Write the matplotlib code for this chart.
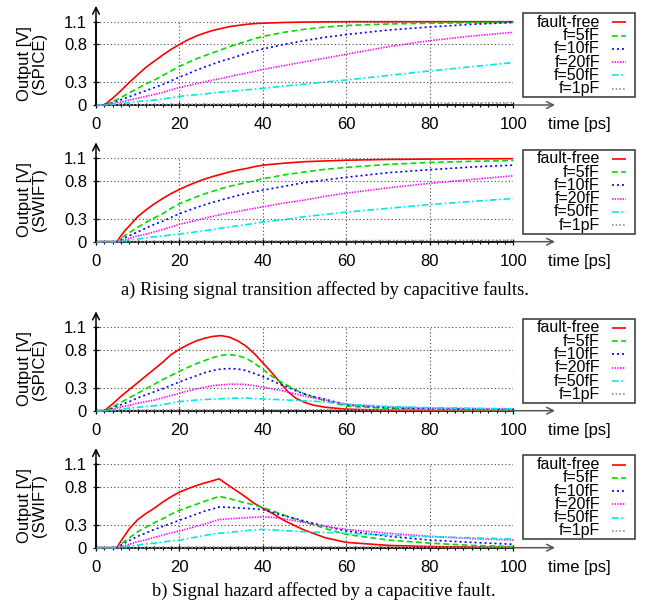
import matplotlib
matplotlib.use("Agg")
import matplotlib.pyplot as plt
from matplotlib.lines import Line2D
from matplotlib.patches import Rectangle

W, H = 651, 608

# ---------------- data ----------------
labels = ["fault-free", "f=5fF", "f=10fF", "f=20fF", "f=50fF", "f=1pF"]
x_ticks = [0, 20, 40, 60, 80, 100]
y_ticks = [0, 0.3, 0.8, 1.1]
y_ticklabels = ["0", "0.3", "0.8", "1.1"]

# a) rising, SPICE
t1 = [0, 2, 4, 6, 8, 10, 12, 14, 16, 18, 20, 22, 24, 26, 28, 30, 32, 34, 36, 38, 40, 45, 50, 55, 60, 70, 80, 90, 100]
r1_ff = [0, 0, 0.09, 0.19, 0.30, 0.40, 0.50, 0.58, 0.66, 0.735, 0.80, 0.86, 0.91, 0.95, 0.985, 1.01, 1.035, 1.05, 1.065, 1.075, 1.08, 1.09, 1.095, 1.098, 1.1, 1.1, 1.1, 1.1, 1.1]
r1_5 = [0, 0, 0.045, 0.10, 0.16, 0.22, 0.28, 0.33, 0.39, 0.45, 0.51, 0.56, 0.61, 0.65, 0.69, 0.73, 0.77, 0.805, 0.84, 0.875, 0.905, 0.96, 1.0, 1.03, 1.05, 1.07, 1.08, 1.085, 1.09]
r1_10 = [0, 0, 0.03, 0.07, 0.11, 0.15, 0.19, 0.23, 0.27, 0.32, 0.37, 0.41, 0.46, 0.50, 0.54, 0.58, 0.61, 0.645, 0.68, 0.71, 0.74, 0.80, 0.85, 0.895, 0.93, 0.99, 1.03, 1.065, 1.09]
r1_20 = [0, 0, 0.015, 0.04, 0.065, 0.09, 0.115, 0.14, 0.165, 0.20, 0.23, 0.255, 0.28, 0.305, 0.33, 0.35, 0.375, 0.40, 0.42, 0.445, 0.47, 0.52, 0.57, 0.62, 0.67, 0.77, 0.85, 0.91, 0.96]
r1_50 = [0, 0, 0.01, 0.02, 0.03, 0.045, 0.055, 0.065, 0.08, 0.095, 0.115, 0.125, 0.135, 0.145, 0.16, 0.17, 0.18, 0.19, 0.20, 0.21, 0.22, 0.25, 0.275, 0.305, 0.33, 0.39, 0.45, 0.505, 0.56]
r1_1p = [0, 0, 0.001, 0.002, 0.003, 0.004, 0.005, 0.005, 0.006, 0.007, 0.008, 0.008, 0.009, 0.009, 0.01, 0.011, 0.011, 0.012, 0.012, 0.013, 0.014, 0.015, 0.017, 0.019, 0.02, 0.023, 0.025, 0.027, 0.03]

# a) rising, SWIFT
t2 = [0, 5, 6, 7, 8, 10, 12, 14, 16, 18, 20, 22, 24, 26, 28, 30, 32, 34, 36, 38, 40, 45, 50, 55, 60, 70, 80, 90, 100]
r2_ff = [0, 0, 0.08, 0.15, 0.21, 0.33, 0.42, 0.50, 0.57, 0.635, 0.69, 0.74, 0.785, 0.825, 0.86, 0.89, 0.92, 0.945, 0.965, 0.99, 1.01, 1.035, 1.055, 1.065, 1.075, 1.085, 1.09, 1.093, 1.095]
r2_5 = [0, 0, 0.045, 0.085, 0.12, 0.19, 0.255, 0.315, 0.37, 0.44, 0.50, 0.545, 0.59, 0.63, 0.665, 0.70, 0.73, 0.755, 0.78, 0.805, 0.83, 0.88, 0.92, 0.955, 0.98, 1.02, 1.045, 1.06, 1.07]
r2_10 = [0, 0, 0.03, 0.055, 0.08, 0.13, 0.18, 0.23, 0.27, 0.32, 0.37, 0.41, 0.45, 0.485, 0.52, 0.55, 0.58, 0.61, 0.635, 0.66, 0.68, 0.73, 0.78, 0.815, 0.85, 0.91, 0.95, 0.985, 1.01]
r2_20 = [0, 0, 0.015, 0.03, 0.045, 0.075, 0.10, 0.13, 0.16, 0.195, 0.23, 0.255, 0.28, 0.31, 0.335, 0.36, 0.38, 0.40, 0.42, 0.44, 0.46, 0.51, 0.55, 0.60, 0.64, 0.71, 0.77, 0.82, 0.87]
r2_50 = [0, 0, 0.005, 0.012, 0.02, 0.035, 0.05, 0.065, 0.075, 0.09, 0.10, 0.115, 0.13, 0.145, 0.16, 0.18, 0.195, 0.21, 0.225, 0.24, 0.26, 0.29, 0.33, 0.36, 0.39, 0.44, 0.49, 0.53, 0.57]
r2_1p = [0, 0, 0.0, 0.0, 0.001, 0.002, 0.002, 0.003, 0.003, 0.004, 0.004, 0.005, 0.005, 0.006, 0.006, 0.007, 0.007, 0.008, 0.008, 0.009, 0.009, 0.01, 0.011, 0.012, 0.013, 0.015, 0.017, 0.019, 0.02]

# b) hazard, SPICE
t3 = [0, 2, 4, 6, 8, 10, 12, 14, 16, 18, 20, 22, 24, 26, 28, 30, 32, 34, 36, 38, 40, 42, 44, 46, 48, 50, 52, 55, 60, 70, 80, 90, 100]
h3_ff = [0, 0, 0.09, 0.19, 0.28, 0.37, 0.46, 0.55, 0.64, 0.74, 0.81, 0.87, 0.92, 0.955, 0.98, 0.99, 0.97, 0.92, 0.85, 0.75, 0.63, 0.51, 0.38, 0.25, 0.16, 0.11, 0.075, 0.045, 0.02, 0.006, 0.002, 0.001, 0]
h3_5 = [0, 0, 0.05, 0.11, 0.17, 0.23, 0.29, 0.35, 0.41, 0.465, 0.52, 0.57, 0.62, 0.66, 0.70, 0.73, 0.74, 0.725, 0.69, 0.625, 0.545, 0.46, 0.39, 0.33, 0.27, 0.22, 0.18, 0.13, 0.06, 0.03, 0.015, 0.01, 0.008]
h3_10 = [0, 0, 0.035, 0.08, 0.12, 0.17, 0.21, 0.25, 0.29, 0.335, 0.38, 0.42, 0.46, 0.50, 0.53, 0.55, 0.555, 0.55, 0.53, 0.49, 0.45, 0.40, 0.35, 0.31, 0.26, 0.22, 0.19, 0.15, 0.075, 0.04, 0.025, 0.02, 0.015]
h3_20 = [0, 0, 0.02, 0.05, 0.07, 0.10, 0.12, 0.14, 0.17, 0.20, 0.23, 0.26, 0.285, 0.31, 0.33, 0.34, 0.35, 0.35, 0.345, 0.33, 0.31, 0.29, 0.27, 0.245, 0.22, 0.19, 0.17, 0.14, 0.085, 0.05, 0.035, 0.028, 0.022]
h3_50 = [0, 0, 0.01, 0.02, 0.035, 0.045, 0.055, 0.065, 0.08, 0.10, 0.12, 0.13, 0.14, 0.147, 0.153, 0.158, 0.162, 0.165, 0.165, 0.16, 0.155, 0.15, 0.145, 0.14, 0.135, 0.13, 0.125, 0.115, 0.085, 0.055, 0.04, 0.032, 0.025]
h3_1p = [0, 0, 0.001, 0.002, 0.003, 0.004, 0.005, 0.005, 0.006, 0.007, 0.008, 0.008, 0.009, 0.009, 0.01, 0.01, 0.01, 0.011, 0.011, 0.011, 0.011, 0.011, 0.011, 0.011, 0.011, 0.011, 0.011, 0.011, 0.01, 0.01, 0.009, 0.009, 0.008]

# b) hazard, SWIFT
t4 = [0, 5, 6, 7, 8, 10, 12, 14, 16, 18, 20, 22, 24, 26, 28, 29.5, 32, 35, 38, 40, 42, 45, 48, 50, 55, 60, 70, 80, 90, 100]
h4_ff = [0, 0, 0.09, 0.17, 0.25, 0.37, 0.45, 0.52, 0.60, 0.67, 0.73, 0.775, 0.815, 0.85, 0.88, 0.905, 0.81, 0.70, 0.58, 0.52, 0.46, 0.36, 0.28, 0.23, 0.13, 0.07, 0.03, 0.015, 0.008, 0.005]
h4_5 = [0, 0, 0.05, 0.09, 0.13, 0.21, 0.27, 0.33, 0.38, 0.44, 0.49, 0.53, 0.57, 0.61, 0.645, 0.675, 0.645, 0.60, 0.56, 0.53, 0.49, 0.43, 0.37, 0.34, 0.25, 0.175, 0.10, 0.06, 0.03, 0.015]
h4_10 = [0, 0, 0.035, 0.065, 0.095, 0.15, 0.195, 0.24, 0.28, 0.32, 0.36, 0.40, 0.44, 0.48, 0.51, 0.535, 0.53, 0.52, 0.51, 0.50, 0.47, 0.42, 0.38, 0.35, 0.28, 0.22, 0.15, 0.10, 0.07, 0.045]
h4_20 = [0, 0, 0.015, 0.03, 0.045, 0.08, 0.105, 0.135, 0.165, 0.195, 0.22, 0.25, 0.28, 0.31, 0.345, 0.37, 0.38, 0.39, 0.40, 0.405, 0.40, 0.38, 0.35, 0.33, 0.28, 0.24, 0.19, 0.15, 0.12, 0.10]
h4_50 = [0, 0, 0.005, 0.012, 0.02, 0.035, 0.05, 0.06, 0.075, 0.09, 0.10, 0.12, 0.14, 0.16, 0.18, 0.19, 0.20, 0.22, 0.235, 0.24, 0.235, 0.225, 0.215, 0.21, 0.20, 0.19, 0.165, 0.145, 0.13, 0.115]
h4_1p = [0, 0, 0.0, 0.0, 0.001, 0.002, 0.002, 0.003, 0.003, 0.004, 0.004, 0.005, 0.005, 0.006, 0.006, 0.007, 0.007, 0.008, 0.008, 0.008, 0.008, 0.008, 0.008, 0.008, 0.008, 0.008, 0.008, 0.007, 0.007, 0.007]

panels = [
    (t1, [r1_ff, r1_5, r1_10, r1_20, r1_50, r1_1p], "(SPICE)"),
    (t2, [r2_ff, r2_5, r2_10, r2_20, r2_50, r2_1p], "(SWIFT)"),
    (t3, [h3_ff, h3_5, h3_10, h3_20, h3_50, h3_1p], "(SPICE)"),
    (t4, [h4_ff, h4_5, h4_10, h4_20, h4_50, h4_1p], "(SWIFT)"),
]

captions = ["a) Rising signal transition affected by capacitive faults.",
            "b) Signal hazard affected by a capacitive fault."]

# ---------------- styles ----------------
colors = ["#ff0000", "#00dd00", "#0000ff", "#ff00ff", "#00e8e8", "#909090"]
dashes = [None, (3.5, 2.0), (1.2, 1.8), (0.8, 0.8), (4.0, 1.6, 1.0, 1.6), (1.0, 1.2)]
LW = 1.2

SANS = ["Liberation Sans", "DejaVu Sans"]
SERIF = ["Liberation Serif", "DejaVu Serif"]
FS = 12
LFS = 11.5

fig = plt.figure(figsize=(W / 100, H / 100), dpi=100)

# pixel positions of (1.1 line, 0 line) for each panel
panel_px = [(21.7, 105.0), (158.3, 241.7), (327.3, 410.7), (464.0, 547.7)]
x_left, x_right = 96.0, 513.3


def fx(px):
    return px / W


def fy(py):
    return 1 - py / H


for (t, series, tag), (ytop, ybot) in zip(panels, panel_px):
    ax = fig.add_axes([fx(x_left), fy(ybot), (x_right - x_left) / W, (ybot - ytop) / H])
    ax.set_xlim(0, 100)
    ax.set_ylim(0, 1.1)
    for ys, c, d in zip(series, colors, dashes):
        ln, = ax.plot(t, ys, color=c, lw=LW, solid_capstyle="butt", solid_joinstyle="round",
                      clip_on=False, zorder=3)
        if d is not None:
            ln.set_dashes(d)
    ax.set_xticks(x_ticks)
    ax.set_xticks(list(range(0, 101, 2)), minor=True)
    ax.set_yticks(y_ticks)
    ax.set_yticklabels(y_ticklabels)
    ax.grid(True, which="major", color="#444444", linestyle=(0, (1, 2.2)), lw=0.8)
    ax.set_axisbelow(True)
    for s in ["top", "right"]:
        ax.spines[s].set_visible(False)
    ax.spines["left"].set_linewidth(1.1)
    ax.spines["bottom"].set_linewidth(1.1)
    ax.tick_params(axis="both", which="major", direction="inout", length=5, width=0.9,
                   labelsize=FS, colors="black")
    ax.tick_params(axis="x", which="minor", direction="inout", length=3.5, width=0.8)
    ax.tick_params(axis="x", which="major", pad=6)
    ax.tick_params(axis="y", which="major", pad=4)
    for lab in ax.get_xticklabels() + ax.get_yticklabels():
        lab.set_fontfamily(SANS)
    # axis arrows
    ax.annotate("", xy=(0, 1.31), xytext=(0, 0), xycoords="data",
                arrowprops=dict(arrowstyle="->", lw=1.1, color="black", mutation_scale=12,
                                shrinkA=0, shrinkB=0), annotation_clip=False)
    ax.annotate("", xy=(110, 0), xytext=(0, 0), xycoords="data",
                arrowprops=dict(arrowstyle="->", lw=1.1, color="#555555", mutation_scale=12,
                                shrinkA=0, shrinkB=0), annotation_clip=False, zorder=1)
    # y label
    fig.text(fx(32), fy((ytop + ybot) / 2), "Output [V]\n" + tag, rotation=90,
             ha="center", va="center", multialignment="center", linespacing=0.95,
             fontsize=FS, family=SANS)
    # x label
    fig.text(fx(548), fy(ybot + 19.5), "time [ps]", ha="left", va="center",
             fontsize=FS, family=SANS)
    # legend
    bx0, bx1 = 523.0, 635.0
    by0, by1 = ytop - 8.7, ytop + 75.3
    fig.add_artist(Rectangle((fx(bx0), fy(by1)), (bx1 - bx0) / W, (by1 - by0) / H,
                             transform=fig.transFigure, facecolor="white",
                             edgecolor="#333333", lw=1.1))
    for i, (lab, c, d) in enumerate(zip(labels, colors, dashes)):
        yy = ytop + 0.5 + i * 13.3
        fig.text(fx(600), fy(yy), lab, ha="right", va="center", fontsize=LFS, family=SANS)
        l = Line2D([fx(611.5), fx(625.5)], [fy(yy), fy(yy)], transform=fig.transFigure,
                   color=c, lw=LW, solid_capstyle="butt")
        if d is not None:
            l.set_dashes(d)
        fig.add_artist(l)

fig.text(fx(325), fy(290), captions[0], ha="center", va="center", fontsize=13.3, family=SERIF)
fig.text(fx(324), fy(591), captions[1], ha="center", va="center", fontsize=13.3, family=SERIF)

fig.savefig("out.png", dpi=100)
